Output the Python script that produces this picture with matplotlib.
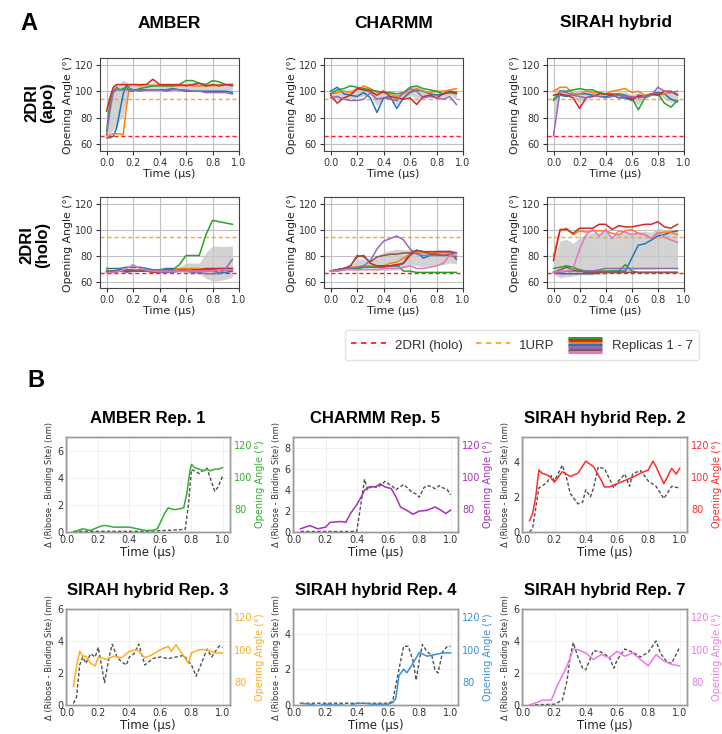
import numpy as np
import matplotlib
matplotlib.use("Agg")
import matplotlib.pyplot as plt
from matplotlib.lines import Line2D
from matplotlib.legend_handler import HandlerBase

# ------------------------------------------------------------------
# Panel A data (opening angle, degrees)
# ------------------------------------------------------------------
ref_2dri_holo = 66.5
ref_1urp = 94.5
rep_colors = ['#1f77b4', '#ff7f0e', '#2ca02c', '#d62728', '#9467bd', '#8c564b', '#e377c2']

t_amber_apo = [0, 0.025, 0.05, 0.075, 0.1, 0.125, 0.15, 0.175, 0.2, 0.25, 0.3, 0.35,
               0.4, 0.45, 0.5, 0.55, 0.6, 0.65, 0.7, 0.75, 0.8, 0.85, 0.9, 0.95]
amber_apo_blue = [65, 65, 66, 72, 85, 98, 105, 102, 101, 101, 101, 101, 101, 101, 102, 101, 100, 100, 100, 100, 100, 100, 100, 99]
amber_apo_orange = [65, 67, 68, 68, 68, 67, 88, 105, 105, 104, 105, 104, 105, 104, 104, 104, 105, 104, 104, 104, 104, 105, 105, 105]
amber_apo_green = [70, 92, 100, 103, 101, 102, 103, 100, 100, 102, 103, 104, 104, 104, 104, 105, 108, 108, 106, 105, 108, 107, 105, 104]
amber_apo_red = [85, 95, 103, 105, 105, 105, 105, 105, 105, 105, 105, 109, 105, 105, 105, 105, 104, 105, 106, 104, 105, 104, 105, 105]
amber_apo_purple = [67, 85, 99, 101, 101, 101, 101, 101, 101, 100, 101, 101, 101, 100, 101, 101, 101, 100, 100, 99, 99, 99, 99, 98]

t_grid = [0, 0.05, 0.1, 0.15, 0.2, 0.25, 0.3, 0.35, 0.4, 0.45,
          0.5, 0.55, 0.6, 0.65, 0.7, 0.75, 0.8, 0.85, 0.9, 0.95]

charmm_apo_blue = [100, 103, 98, 97, 96, 99, 95, 84, 95, 96, 87, 95, 99, 101, 100, 98, 97, 98, 99, 99]
charmm_apo_orange = [98, 99, 100, 99, 101, 104, 102, 99, 100, 98, 96, 98, 100, 102, 100, 99, 100, 100, 101, 102]
charmm_apo_green = [98, 101, 102, 104, 103, 102, 101, 100, 99, 99, 98, 99, 103, 104, 102, 101, 100, 98, 99, 98]
charmm_apo_red = [97, 91, 95, 97, 102, 101, 100, 97, 100, 96, 95, 94, 95, 90, 96, 97, 95, 98, 100, 99]
charmm_apo_purple = [95, 96, 94, 93, 93, 94, 99, 94, 95, 94, 93, 99, 102, 100, 95, 96, 95, 94, 96, 90]

sirah_apo_blue = [94, 97, 96, 98, 98, 98, 97, 96, 96, 97, 95, 95, 93, 97, 96, 98, 99, 98, 94, 92]
sirah_apo_orange = [100, 103, 103, 98, 98, 100, 99, 99, 98, 100, 101, 102, 99, 100, 97, 98, 97, 98, 99, 98]
sirah_apo_green = [93, 100, 100, 101, 102, 101, 101, 99, 98, 98, 98, 97, 95, 86, 95, 97, 98, 91, 88, 93]
sirah_apo_red = [97, 98, 97, 95, 87, 95, 96, 98, 98, 97, 97, 96, 94, 96, 96, 98, 97, 100, 100, 97]
sirah_apo_purple = [67, 100, 99, 97, 96, 95, 97, 96, 95, 96, 97, 96, 96, 95, 96, 97, 103, 100, 99, 100]

amber_holo_blue = [70, 70, 70, 71, 71, 71, 70, 69, 69, 70, 70, 69, 69, 68, 68, 68, 68, 67, 67, 68]
amber_holo_orange = [68, 68, 69, 69, 68, 69, 69, 69, 68, 69, 69, 70, 70, 70, 70, 69, 69, 70, 70, 70]
amber_holo_green = [68, 67, 68, 69, 69, 68, 68, 68, 69, 69, 69, 73, 80, 80, 80, 96, 107, 106, 105, 104]
amber_holo_red = [67, 67, 68, 68, 68, 68, 68, 67, 67, 68, 68, 68, 68, 69, 69, 70, 70, 70, 70, 70]
amber_holo_purple = [67, 68, 68, 67, 68, 69, 68, 68, 67, 67, 67, 68, 68, 67, 67, 66, 66, 66, 70, 77]
amber_holo_brown = [68, 68, 69, 68, 68, 68, 69, 69, 68, 68, 68, 68, 68, 68, 68, 69, 69, 69, 69, 69]
amber_holo_pink = [67, 67, 68, 70, 73, 70, 69, 68, 68, 68, 68, 68, 68, 68, 68, 68, 68, 69, 69, 69]

charmm_holo_blue = [68, 69, 70, 70, 70, 71, 71, 71, 71, 72, 72, 74, 82, 83, 78, 80, 83, 83, 83, 77]
charmm_holo_orange = [68, 69, 70, 71, 71, 72, 72, 72, 72, 74, 75, 78, 81, 82, 82, 82, 82, 82, 82, 82]
charmm_holo_green = [68, 68, 69, 70, 70, 71, 71, 71, 72, 72, 73, 68, 68, 67, 67, 67, 67, 67, 67, 67]
charmm_holo_red = [68, 69, 70, 72, 79, 80, 74, 72, 72, 72, 73, 74, 80, 84, 83, 83, 83, 83, 83, 82]
charmm_holo_purple = [68, 69, 70, 70, 71, 72, 76, 85, 91, 93, 95, 92, 85, 81, 80, 80, 80, 80, 81, 82]
charmm_holo_brown = [68, 69, 70, 72, 80, 79, 75, 79, 80, 81, 81, 82, 82, 84, 83, 81, 81, 80, 80, 79]
charmm_holo_pink = [68, 68, 69, 69, 69, 69, 69, 69, 70, 70, 70, 71, 72, 70, 70, 71, 72, 74, 80, 80]

sirah_holo_blue = [67, 66, 66, 66, 66, 66, 66, 67, 67, 68, 68, 68, 78, 88, 89, 92, 95, 96, 98, 99]
sirah_holo_orange = [80, 99, 101, 96, 99, 98, 99, 99, 99, 97, 96, 99, 100, 97, 96, 93, 97, 98, 98, 96]
sirah_holo_green = [70, 71, 72, 71, 69, 68, 68, 68, 68, 68, 68, 73, 68, 67, 67, 67, 67, 67, 67, 67]
sirah_holo_red = [76, 100, 100, 97, 101, 101, 101, 104, 104, 100, 103, 102, 102, 103, 104, 104, 106, 102, 101, 104]
sirah_holo_purple = [67, 67, 68, 68, 68, 68, 68, 69, 70, 70, 70, 70, 70, 70, 70, 70, 70, 70, 70, 70]
sirah_holo_brown = [67, 69, 71, 69, 68, 67, 67, 67, 67, 67, 67, 67, 67, 67, 67, 67, 67, 67, 67, 67]
sirah_holo_pink = [67, 68, 68, 70, 85, 96, 100, 95, 100, 93, 99, 98, 96, 97, 96, 93, 98, 94, 92, 90]

col_titles = ['AMBER', 'CHARMM', 'SIRAH hybrid']
row_titles = ['2DRI\n(apo)', '2DRI\n(holo)']

# ------------------------------------------------------------------
# Panel B data
# ------------------------------------------------------------------
b_titles = ['AMBER Rep. 1', 'CHARMM Rep. 5', 'SIRAH hybrid Rep. 2',
            'SIRAH hybrid Rep. 3', 'SIRAH hybrid Rep. 4', 'SIRAH hybrid Rep. 7']
b_colors = ['#33b033', '#a332b8', '#ff2a2a', '#ffad20', '#3a8fd2', '#f274e8']

# AMBER Rep. 1
b1_t_ang = [0.04, 0.07, 0.1, 0.15, 0.2, 0.23, 0.25, 0.3, 0.35, 0.4, 0.45, 0.5, 0.55, 0.58, 0.6, 0.63,
            0.65, 0.68, 0.7, 0.75, 0.77, 0.79, 0.8, 0.82, 0.85, 0.88, 0.9, 0.92, 0.95, 0.97, 1.0]
b1_ang = [66, 67, 68, 67, 69, 70, 70, 69, 69, 69, 68, 67, 67, 68, 72, 78,
          81, 80, 80, 81, 90, 104, 108, 106, 105, 104, 105, 104, 105, 105, 106]
b1_t_dist = [0.04, 0.1, 0.2, 0.3, 0.4, 0.5, 0.6, 0.7, 0.76, 0.78, 0.8, 0.82, 0.85, 0.87, 0.9, 0.92, 0.95, 0.97, 1.0]
b1_dist = [0.05, 0.05, 0.05, 0.05, 0.05, 0.05, 0.1, 0.15, 0.2, 2.0, 4.6, 4.5, 4.3, 4.5, 4.7, 4.0, 3.0, 3.3, 4.1]

# CHARMM Rep. 5
b2_t_ang = [0.04, 0.1, 0.15, 0.2, 0.23, 0.3, 0.33, 0.36, 0.4, 0.43, 0.45, 0.48, 0.52, 0.55, 0.58, 0.62,
            0.65, 0.68, 0.72, 0.76, 0.8, 0.85, 0.9, 0.93, 0.97, 1.0]
b2_ang = [68, 70, 68, 69, 72, 72.5, 72, 77.5, 83, 88, 92, 94, 94, 96, 94, 93,
          88, 81.5, 79.5, 77, 79, 79.5, 81.5, 80, 77.5, 79.5]
b2_t_dist = [0.04, 0.2, 0.4, 0.42, 0.45, 0.47, 0.5, 0.53, 0.56, 0.58, 0.6, 0.63, 0.65, 0.7, 0.73,
             0.75, 0.78, 0.8, 0.83, 0.85, 0.88, 0.9, 0.93, 0.95, 0.98, 1.0]
b2_dist = [0.05, 0.05, 0.05, 2.0, 5.0, 4.0, 4.4, 4.2, 4.5, 4.8, 4.6, 4.3, 4.0, 4.5, 4.1,
           3.8, 3.6, 3.3, 4.2, 4.4, 4.3, 4.1, 4.4, 4.2, 4.0, 3.5]

# SIRAH hybrid Rep. 2
b3_t_ang = [0.04, 0.06, 0.08, 0.1, 0.12, 0.15, 0.17, 0.2, 0.25, 0.3, 0.35, 0.4, 0.45, 0.5, 0.52,
            0.55, 0.6, 0.65, 0.7, 0.75, 0.8, 0.83, 0.85, 0.9, 0.95, 0.98, 1.0]
b3_ang = [73, 77.5, 88, 104.5, 102.5, 101.5, 100.5, 97, 103.5, 100.5, 102.5, 110, 106.5, 98, 94,
          94, 96, 98, 100, 102.5, 104.5, 110, 106.5, 96, 105.5, 102, 105.5]
b3_t_dist = [0.04, 0.06, 0.1, 0.15, 0.18, 0.2, 0.25, 0.28, 0.3, 0.35, 0.38, 0.4, 0.43, 0.45, 0.48,
             0.52, 0.58, 0.6, 0.65, 0.68, 0.7, 0.75, 0.8, 0.85, 0.9, 0.95, 1.0]
b3_dist = [0.0, 0.2, 2.5, 2.8, 3.2, 2.9, 3.8, 3.0, 2.2, 1.6, 1.7, 2.4, 2.0, 2.5, 3.7,
           3.6, 2.5, 2.8, 3.3, 2.6, 3.3, 3.5, 2.9, 2.6, 1.9, 2.6, 2.5]

# SIRAH hybrid Rep. 3
b4_t_ang = [0.04, 0.06, 0.08, 0.1, 0.12, 0.15, 0.18, 0.2, 0.25, 0.3, 0.35, 0.4, 0.45, 0.5, 0.55,
            0.6, 0.65, 0.67, 0.7, 0.75, 0.78, 0.8, 0.85, 0.9, 0.95, 1.0]
b4_ang = [77.3, 90, 99, 96, 96, 91.7, 90, 95.5, 94, 96, 95, 99, 100, 95, 97,
          100, 102, 99, 103, 96, 91.7, 98, 100, 100, 98, 98]
b4_t_dist = [0.04, 0.06, 0.08, 0.1, 0.12, 0.15, 0.18, 0.2, 0.22, 0.24, 0.27, 0.29, 0.32, 0.35, 0.38,
             0.4, 0.43, 0.46, 0.5, 0.55, 0.6, 0.65, 0.7, 0.75, 0.8, 0.83, 0.86, 0.9, 0.93, 0.95, 0.98, 1.0]
b4_dist = [0.1, 0.5, 2.5, 3.0, 2.6, 3.2, 3.0, 3.6, 2.5, 1.4, 3.0, 3.8, 3.0, 2.7, 2.5,
           3.0, 3.2, 3.8, 2.5, 2.9, 3.0, 2.9, 3.0, 3.1, 2.5, 1.8, 2.5, 3.5, 3.0, 3.3, 3.7, 3.6]

# SIRAH hybrid Rep. 4
b5_t_ang = [0.04, 0.1, 0.15, 0.2, 0.25, 0.3, 0.35, 0.4, 0.45, 0.5, 0.55, 0.6, 0.63, 0.65, 0.67,
            0.7, 0.72, 0.75, 0.8, 0.85, 0.9, 0.95, 1.0]
b5_ang = [67, 66.5, 65.5, 66.5, 66, 66, 65.5, 67, 67, 66.5, 66.5, 66.5, 67.5, 70, 84,
          88, 85.8, 90, 98.3, 96, 97, 98, 98]
b5_t_dist = [0.04, 0.2, 0.4, 0.6, 0.63, 0.67, 0.7, 0.73, 0.76, 0.78, 0.8, 0.82, 0.85, 0.88, 0.9,
             0.92, 0.95, 0.98, 1.0]
b5_dist = [0.1, 0.1, 0.1, 0.1, 0.2, 2.0, 3.3, 3.3, 2.5, 1.4, 2.5, 3.4, 3.0, 2.8, 2.0,
           1.8, 3.0, 3.3, 3.3]

# SIRAH hybrid Rep. 7
b6_t_ang = [0.04, 0.1, 0.12, 0.18, 0.22, 0.25, 0.28, 0.3, 0.32, 0.35, 0.4, 0.45, 0.5, 0.55, 0.6,
            0.65, 0.7, 0.75, 0.8, 0.85, 0.9, 0.95, 1.0]
b6_ang = [66, 68, 69, 69, 78.5, 84, 90, 95, 100.4, 100, 98, 94, 97, 95, 99,
          96, 98, 94, 90, 97, 93, 91, 90]
b6_t_dist = [0.04, 0.2, 0.25, 0.28, 0.3, 0.32, 0.35, 0.38, 0.4, 0.45, 0.5, 0.55, 0.58, 0.6, 0.65,
             0.7, 0.75, 0.8, 0.85, 0.88, 0.92, 0.95, 0.98, 1.0]
b6_dist = [0.0, 0.05, 0.3, 1.5, 3.0, 3.9, 3.0, 2.3, 2.2, 3.4, 3.3, 3.0, 2.3, 2.8, 3.5,
           3.3, 3.0, 3.3, 4.0, 3.2, 2.7, 2.6, 3.2, 3.6]

b_dist_max = [7, 9, 5.4, 6, 5.4, 6]
b_dist_ticks = [[0, 2, 4, 6], [0, 2, 4, 6, 8], [0, 2, 4], [0, 2, 4, 6], [0, 2, 4], [0, 2, 4, 6]]

# ------------------------------------------------------------------
# Figure
# ------------------------------------------------------------------
W, H = 722, 734
fig = plt.figure(figsize=(W / 100, H / 100), dpi=100)
BOLD = dict(family=['Liberation Sans', 'DejaVu Sans'], fontweight='bold')


def px_axes(left, top, right, bottom):
    return fig.add_axes([left / W, 1 - bottom / H, (right - left) / W, (bottom - top) / H])


panels_A = [
    [(t_amber_apo, [amber_apo_blue, amber_apo_orange, amber_apo_green, amber_apo_red, amber_apo_purple]),
     (t_grid, [charmm_apo_blue, charmm_apo_orange, charmm_apo_green, charmm_apo_red, charmm_apo_purple]),
     (t_grid, [sirah_apo_blue, sirah_apo_orange, sirah_apo_green, sirah_apo_red, sirah_apo_purple])],
    [(t_grid, [amber_holo_blue, amber_holo_orange, amber_holo_green, amber_holo_red,
               amber_holo_purple, amber_holo_brown, amber_holo_pink]),
     (t_grid, [charmm_holo_blue, charmm_holo_orange, charmm_holo_green, charmm_holo_red,
               charmm_holo_purple, charmm_holo_brown, charmm_holo_pink]),
     (t_grid, [sirah_holo_blue, sirah_holo_orange, sirah_holo_green, sirah_holo_red,
               sirah_holo_purple, sirah_holo_brown, sirah_holo_pink])],
]
A_cols = [(100, 239), (324, 463), (547, 684)]
A_rows = [(58, 151), (197, 288)]

for r in range(2):
    for c in range(3):
        ax = px_axes(A_cols[c][0], A_rows[r][0], A_cols[c][1], A_rows[r][1])
        t, reps = panels_A[r][c]
        arr = np.array(reps, dtype=float)
        mean = arr.mean(axis=0)
        std = arr.std(axis=0)
        ax.fill_between(t, mean - std, mean + std, color='#c8c8c8', alpha=0.8, lw=0, zorder=1)
        for i, y in enumerate(reps):
            ax.plot(t, y, color=rep_colors[i], lw=1.1, zorder=3)
        ax.axhline(ref_2dri_holo, color='#ff2020', ls='--', lw=1.0, dashes=(3, 2), zorder=2)
        ax.axhline(ref_1urp, color='#ffa520', ls='--', lw=1.0, dashes=(3, 2), zorder=2)
        ax.set_xlim(-0.05, 1.0)
        ax.set_ylim(55, 125)
        ax.set_xticks([0, 0.2, 0.4, 0.6, 0.8, 1.0])
        ax.set_yticks([60, 80, 100, 120])
        ax.grid(True, color='#c0c0c0', lw=0.8, zorder=0)
        ax.set_axisbelow(True)
        ax.tick_params(labelsize=7, colors='#333333', length=3, width=0.8, pad=2)
        for s in ax.spines.values():
            s.set_color('#444444')
            s.set_linewidth(0.8)
        ax.set_xlabel('Time (µs)', fontsize=8, color='#222222', labelpad=1)
        ax.set_ylabel('Opening Angle (°)', fontsize=7.8, color='#222222', labelpad=1)

for c in range(3):
    xc = (A_cols[c][0] + A_cols[c][1]) / 2 / W
    fig.text(xc, 1 - 23 / H, col_titles[c], ha='center', va='center', fontsize=12.5, **BOLD)
fig.text(40 / W, 1 - 103 / H, row_titles[0], rotation=90, ha='center', va='center',
         fontsize=12, linespacing=1.05, **BOLD)
fig.text(35 / W, 1 - 245 / H, row_titles[1], rotation=90, ha='center', va='center',
         fontsize=12, linespacing=1.05, **BOLD)
fig.text(20 / W, 1 - 24 / H, 'A', ha='left', va='center', fontsize=17, **BOLD)
fig.text(27 / W, 1 - 381 / H, 'B', ha='left', va='center', fontsize=17, **BOLD)


# Legend with stacked replica handle
class StackHandle:
    pass


class HandlerStack(HandlerBase):
    def create_artists(self, legend, orig_handle, xdescent, ydescent, width, height, fontsize, trans):
        arts = []
        cols = ['#2ca02c', '#d62728', '#ff7f0e', '#1f77b4', '#9467bd', '#8c564b', '#e377c2']
        n = len(cols)
        for i, col in enumerate(cols):
            y = -ydescent + height * (1 - (i + 0.5) / n)
            ln = Line2D([-xdescent, -xdescent + width], [y, y], color=col, lw=2.2, transform=trans,
                        solid_capstyle='butt')
            arts.append(ln)
        return arts


h1 = Line2D([], [], color='#ff2020', ls='--', lw=1.3, dashes=(3, 2.5))
h2 = Line2D([], [], color='#ffa520', ls='--', lw=1.3, dashes=(3, 2.5))
h3 = StackHandle()
leg = fig.legend([h1, h2, h3], ['2DRI (holo)', '1URP', 'Replicas 1 - 7'],
                 handler_map={StackHandle: HandlerStack()},
                 loc='center', bbox_to_anchor=(522 / W, 1 - 345 / H), ncol=3,
                 prop={'family': ['Liberation Sans', 'DejaVu Sans'], 'size': 9.5},
                 handlelength=2.6, handleheight=1.6, handletextpad=0.7, columnspacing=1.0,
                 borderpad=0.5, borderaxespad=0, frameon=True, fancybox=True)
leg.get_frame().set_edgecolor('#dddddd')
leg.get_frame().set_linewidth(1.0)
for txt in leg.get_texts():
    txt.set_color('#333333')

# ------------------------------------------------------------------
# Panel B
# ------------------------------------------------------------------
B_data = [(b1_t_dist, b1_dist, b1_t_ang, b1_ang), (b2_t_dist, b2_dist, b2_t_ang, b2_ang),
          (b3_t_dist, b3_dist, b3_t_ang, b3_ang), (b4_t_dist, b4_dist, b4_t_ang, b4_ang),
          (b5_t_dist, b5_dist, b5_t_ang, b5_ang), (b6_t_dist, b6_dist, b6_t_ang, b6_ang)]
B_cols = [(66, 230), (293, 458), (522, 687)]
B_rows = [(437, 532), (609, 705)]

for k in range(6):
    r, c = divmod(k, 3)
    ax = px_axes(B_cols[c][0], B_rows[r][0], B_cols[c][1], B_rows[r][1])
    td, d, ta, a = B_data[k]
    col = b_colors[k]
    ax.plot(td, d, ls='--', color='#333333', lw=1.0, dashes=(2.5, 1.5), alpha=0.85, zorder=3)
    ax.set_ylim(0, b_dist_max[k])
    ax.set_yticks(b_dist_ticks[k])
    ax.set_xlim(-0.008, 1.048)
    ax.set_xticks([0, 0.2, 0.4, 0.6, 0.8, 1.0])
    ax.grid(True, color='#ececec', lw=0.6)
    ax.set_axisbelow(True)
    ax.tick_params(labelsize=7, colors='#333333', length=0, pad=2)
    for s in ax.spines.values():
        s.set_color('#999999')
        s.set_linewidth(1.0)
    ax.set_xlabel('Time (µs)', fontsize=8.5, color='#222222', labelpad=1)
    ax.set_ylabel('Δ (Ribose - Binding Site) (nm)', fontsize=6, color='#333333', labelpad=2)
    ax.set_title(b_titles[k], fontsize=12, pad=10, **BOLD)
    ax2 = ax.twinx()
    ax2.plot(ta, a, color=col, lw=1.1, zorder=2)
    ax2.set_ylim(66, 125)
    ax2.set_yticks([80, 100, 120])
    ax2.tick_params(labelsize=7, colors=col, length=0, pad=3)
    for s in ax2.spines.values():
        s.set_color('#999999')
        s.set_linewidth(1.0)
    ax2.set_ylabel('Opening Angle (°)', fontsize=7, color=col, labelpad=2)

fig.savefig('out.png', dpi=100)
